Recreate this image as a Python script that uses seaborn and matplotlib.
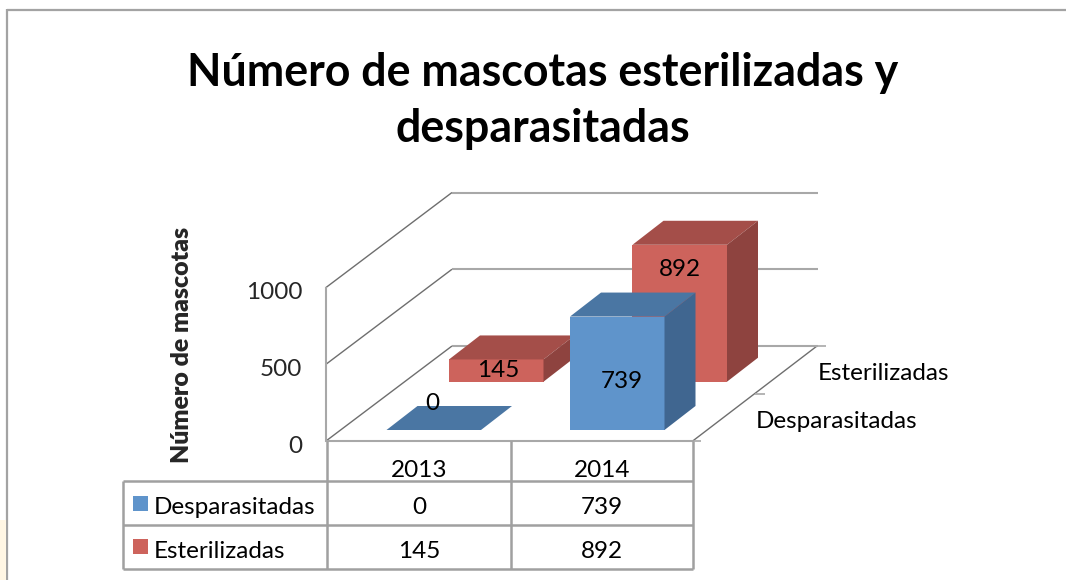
import numpy as np
import pandas as pd
import seaborn as sns
import matplotlib.pyplot as plt
from matplotlib.patches import Polygon, Rectangle
from matplotlib.transforms import ScaledTranslation

# data
years = ['2013', '2014']
desparasitadas = [0, 739]
esterilizadas = [145, 892]
series_names = ['Desparasitadas', 'Esterilizadas']
y_ticks = [0, 500, 1000]

title = 'Número de mascotas esterilizadas y\ndesparasitadas'
y_title = 'Número de mascotas'

W, H = 1066, 580
DX, DY = 31, -24
UNIT_H = 153.5  # pixels for the 0-1000 range
GRID = '#a8a8a8'
LINE = '#6e6e6e'
BLUE = ('#5f94cb', '#4a76a3', '#406690')
RED = ('#cd635c', '#a44e49', '#8e433f')
FS = 17.5

sns.set_theme(style='white')
plt.rcParams['font.family'] = ['Lato', 'DejaVu Sans']
plt.rcParams['text.color'] = 'black'

fig = plt.figure(figsize=(W / 100, H / 100), dpi=100, facecolor='white')

# pixel overlay, y goes down like the picture
page = fig.add_axes([0, 0, 1, 1], zorder=0)
page.set_xlim(0, W)
page.set_ylim(H, 0)
page.axis('off')


def px_axes(left, top, right, bottom, zorder):
    ax = fig.add_axes([left / W, 1 - bottom / H, (right - left) / W, (bottom - top) / H], zorder=zorder)
    ax.patch.set_alpha(0)
    return ax


def px_line(xs, ys, color=GRID, lw=1.4, z=1):
    page.plot(xs, ys, color=color, lw=lw, solid_capstyle='butt', zorder=z)


# outer frame of the chart
px_line([7, 7], [9, 580], '#a3a3a3', 1.6)
px_line([7, 1066], [9.5, 9.5], '#a3a3a3', 1.6)
page.add_patch(Rectangle((0, 520), 6, 60, color='#fff6e4', lw=0))

fig.text(543 / W, 1 - 101 / H, title, ha='center', va='center', fontsize=32.2,
         fontweight='bold', linespacing=1.42)

# back wall gridlines
back = px_axes(452, 346 - UNIT_H, 818, 346, 1)
back.set_ylim(0, 1000)
back.set_xlim(0, 1)
back.axis('off')
back.hlines(y_ticks, 0, 1, color=GRID, lw=1.5, clip_on=False)

# front-left scale with the tick labels
scale = px_axes(326, 441 - UNIT_H, 327, 441, 2)
scale.set_ylim(0, 1000)
scale.set_xticks([])
scale.set_yticks(y_ticks)
scale.set_yticklabels([str(t) for t in y_ticks], fontsize=FS)
scale.tick_params(axis='y', length=0, pad=17)
for lab in scale.get_yticklabels():
    lab.set_transform(lab.get_transform() + ScaledTranslation(0, -2.2 / 72, fig.dpi_scale_trans))
for s in ['top', 'bottom', 'right']:
    scale.spines[s].set_visible(False)
scale.spines['left'].set_color(GRID)
scale.spines['left'].set_linewidth(1.5)
scale.set_ylabel(y_title, fontsize=17.9, fontweight='heavy', labelpad=0)
scale.yaxis.set_label_coords(-133, 0.625)

# side walls and floor lines
for t in y_ticks:
    y = H - scale.transData.transform((0, t))[1]
    px_line([326, 452], [y, y - 95], LINE, 1.0)
px_line([692.7, 817], [441, 346], LINE, 1.0)
px_line([326, 693], [441, 441], GRID, 1.5)
px_line([692.7, 701], [441, 441], GRID, 1.2)
px_line([755, 765], [393.5, 393.5], GRID, 1.2)
px_line([817, 826], [346, 346], GRID, 1.2)


def draw_series(values, colors, left, bottom, zorder, offsets):
    df = pd.DataFrame({'anio': years, 'valor': values})
    right = left + 367
    ax = px_axes(left, bottom - UNIT_H, right, bottom, zorder)
    sns.barplot(data=df, x='anio', y='valor', color=colors[0], saturation=1, width=0.515,
                errorbar=None, ax=ax)
    ax.set_ylim(0, 1000)
    ax.set_xlim(-0.5, 1.5)
    ax.axis('off')
    to_page = ax.transData + page.transData.inverted()
    for bar, val, off in zip(ax.patches, values, offsets):
        bar.set_linewidth(0)
        bar.set_clip_on(False)
        x0, y0 = to_page.transform((bar.get_x(), 0))
        x1, y1 = to_page.transform((bar.get_x() + bar.get_width(), val))
        # top and right faces of the box
        top = [(x0, y1), (x1, y1), (x1 + DX, y1 + DY), (x0 + DX, y1 + DY)]
        side = [(x1, y1), (x1, y0), (x1 + DX, y0 + DY), (x1 + DX, y1 + DY)]
        for pts, c in [(top, colors[1]), (side, colors[2])]:
            ax.add_patch(Polygon(pts, closed=True, fc=c, ec='none', lw=0,
                                 transform=page.transData, clip_on=False))
        ax.text((x0 + x1) / 2 + off[0], y1 + off[1], str(val), ha='center', va='center', fontsize=FS,
                transform=page.transData, clip_on=False, zorder=5)
    return ax


# back row first so the front row covers it
draw_series(esterilizadas, RED, 404.5, 381.7, 3, [(2, 11), (0, 25)])
draw_series(desparasitadas, BLUE, 342, 430, 4, [(-1, -27), (5, 65)])

fig.text(818 / W, 1 - 373 / H, series_names[1], ha='left', va='center', fontsize=FS)
fig.text(756 / W, 1 - 421 / H, series_names[0], ha='left', va='center', fontsize=FS)

# data table
col_x = [123, 327, 511, 693]
row_y = [441, 481, 525, 569]
for x in col_x[1:]:
    px_line([x, x], [row_y[0], row_y[-1]], '#a0a0a0', 1.8)
px_line([col_x[0], col_x[0]], [row_y[1], row_y[-1]], '#a0a0a0', 1.8)
for y in row_y[1:]:
    px_line([col_x[0], col_x[-1]], [y, y], '#a0a0a0', 1.8)

centres = [419, 602]
for cx, yr, a, b in zip(centres, years, desparasitadas, esterilizadas):
    page.text(cx, 470.5, yr, ha='center', va='center', fontsize=FS)
    page.text(cx, 508, str(a), ha='center', va='center', fontsize=FS)
    page.text(cx, 551.5, str(b), ha='center', va='center', fontsize=FS)
for y, name, colors in zip([506, 549], series_names, [BLUE, RED]):
    page.add_patch(Rectangle((133, y - 10.5), 15, 15, fc=colors[0], ec='none'))
    page.text(154, y + 2, name, ha='left', va='center', fontsize=FS)

fig.savefig('out.png', dpi=100, facecolor='white')
